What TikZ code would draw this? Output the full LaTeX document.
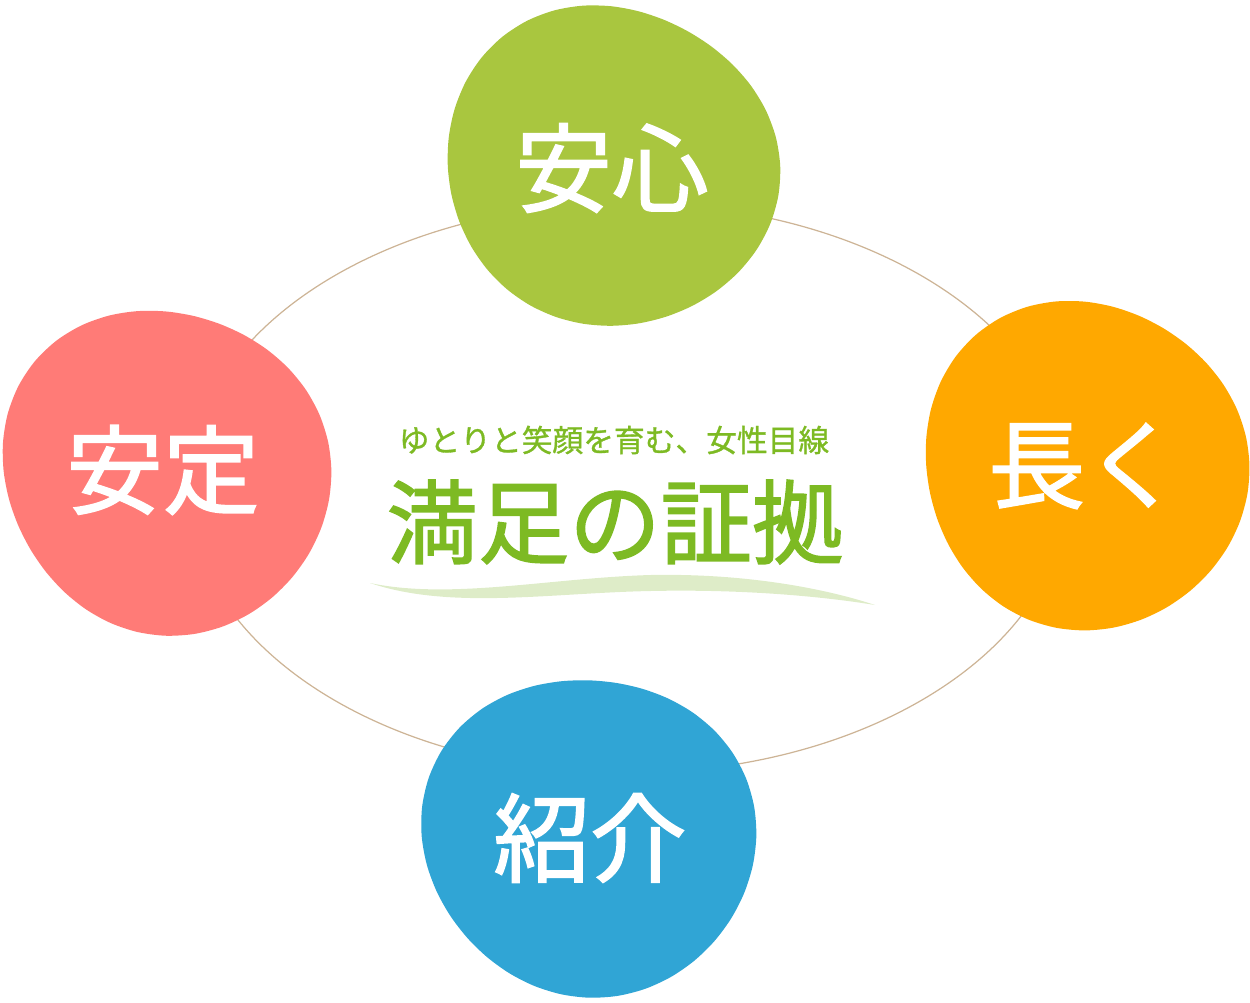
\documentclass[tikz,border=0pt]{standalone}
\usepackage{fontspec}
\newfontfamily\jpfont[FakeBold=1.6]{Noto Sans CJK JP}
\newfontfamily\jpthin[FakeBold=1.0]{Noto Sans CJK JP}
\definecolor{leafgreen}{RGB}{169,198,63}
\definecolor{salmon}{RGB}{255,123,119}
\definecolor{amber}{RGB}{255,168,0}
\definecolor{skyblue}{RGB}{48,165,213}
\definecolor{ringtan}{RGB}{205,180,150}
\definecolor{titlegreen}{RGB}{125,186,35}
\definecolor{wavegreen}{RGB}{222,236,200}

\begin{document}
\begin{tikzpicture}[x=0.02cm,y=-0.02cm,
    ring/.style={draw=ringtan,line width=0.7pt},
    blob/.style={smooth cycle,domain=0:350,samples=36,variable=\t},
    blobtext/.style={text=white,font=\jpfont\fontsize{55}{60}\selectfont},
    subtitle/.style={text=titlegreen,font=\jpthin\fontsize{17.5}{20}\selectfont},
    title/.style={text=titlegreen,font=\jpfont\fontsize{52}{56}\selectfont}]
  \useasboundingbox (0,0) rectangle (1250,1002);
  % ring behind the four blobs
  \draw[ring] (628,488) ellipse (8.8cm and 5.7cm);
  % blobs
  \fill[leafgreen] plot[blob]
    ({611+(163+5*sin(2*\t+40)+3*cos(3*\t))*cos(\t)},{166+(163+5*sin(2*\t+40)+3*cos(3*\t))*sin(\t)});
  \fill[salmon] plot[blob]
    ({166+(163+5*sin(2*\t+10)+3*cos(3*\t+60))*cos(\t)},{471+(163+5*sin(2*\t+10)+3*cos(3*\t+60))*sin(\t)});
  \fill[amber] plot[blob]
    ({1085+(163+4*sin(2*\t-20)+3*cos(3*\t+20))*cos(\t)},{465+(163+4*sin(2*\t-20)+3*cos(3*\t+20))*sin(\t)});
  \fill[skyblue] plot[blob]
    ({589+(163+5*sin(2*\t+60)+3*cos(3*\t+90))*cos(\t)},{836+(163+5*sin(2*\t+60)+3*cos(3*\t+90))*sin(\t)});
  % labels
  \node[blobtext] (anshin) at (612,168) {安心};
  \node[blobtext] (antei) at (163,470) {安定};
  \node[blobtext] (nagaku) at (1085,466) {長く};
  \node[blobtext] (shokai) at (590,838) {紹介};
  % centre title
  \fill[wavegreen] (370,583) .. controls (450,600) and (550,578) .. (650,575)
    .. controls (750,573) and (830,590) .. (875,605)
    .. controls (820,596) and (740,589) .. (650,591)
    .. controls (550,593) and (450,610) .. (370,583) -- cycle;
  \node[subtitle] (catch) at (614,440) {ゆとりと笑顔を育む、女性目線};
  \node[title] (proof) at (615,522) {満足の証拠};
\end{tikzpicture}
\end{document}
